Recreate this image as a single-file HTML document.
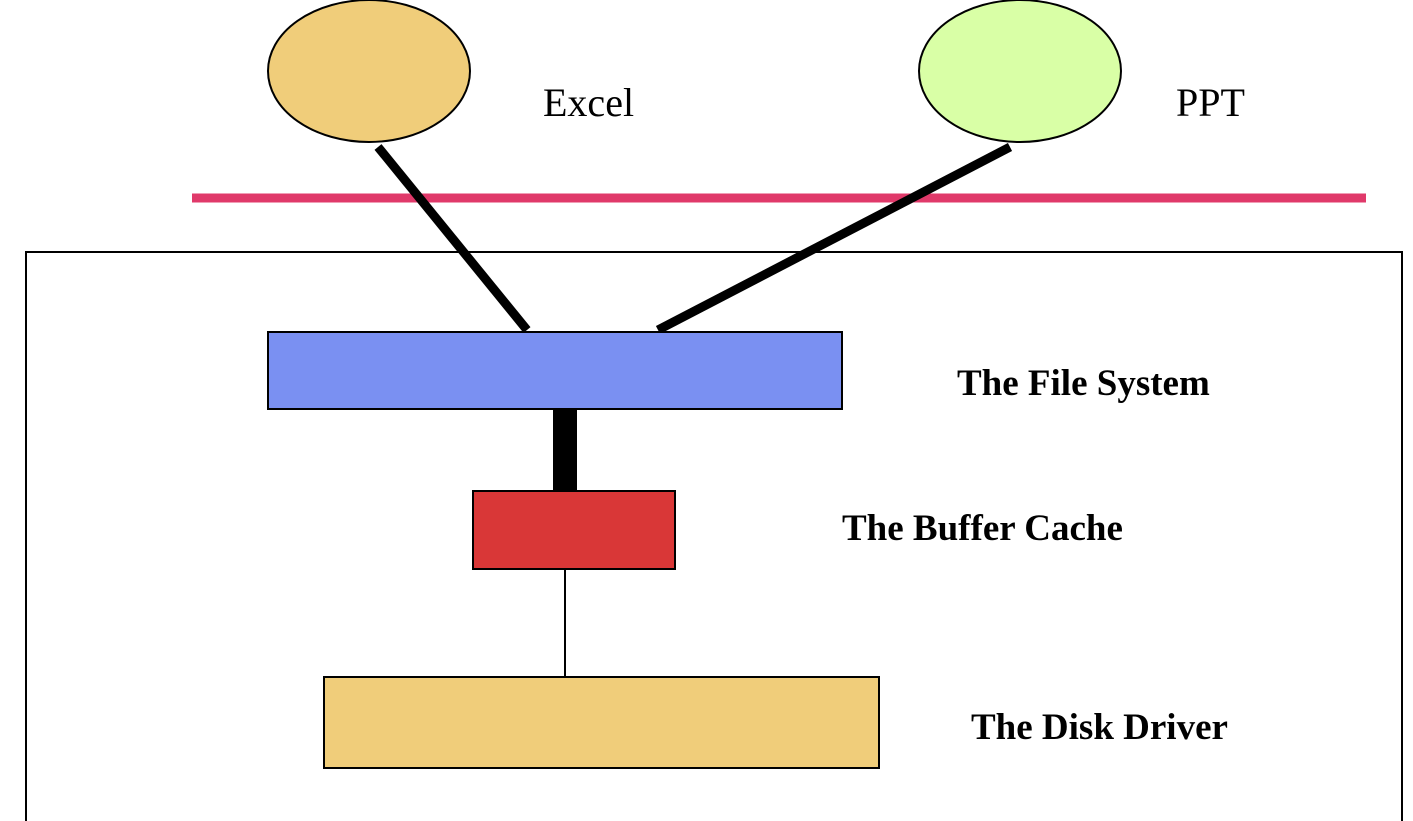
<!DOCTYPE html>
<html><head><style>html,body{margin:0;padding:0;background:#fff;}svg{display:block;}</style></head>
<body>
<svg width="1413" height="821" viewBox="0 0 1413 821" xmlns="http://www.w3.org/2000/svg" font-family="'Liberation Serif', serif">
<rect x="0" y="0" width="1413" height="821" fill="#fff"/>
<ellipse cx="369" cy="71" rx="101" ry="71" fill="#f0cd7a" stroke="#000" stroke-width="2"/>
<ellipse cx="1020" cy="71" rx="101" ry="71" fill="#d9ffa6" stroke="#000" stroke-width="2"/>
<text x="543" y="116" font-size="40">Excel</text>
<text x="1176" y="116" font-size="40">PPT</text>
<line x1="192" y1="198" x2="1366" y2="198" stroke="#e0396a" stroke-width="9"/>
<rect x="26" y="252" width="1376" height="570" fill="none" stroke="#000" stroke-width="2"/>
<line x1="378" y1="147" x2="527" y2="330" stroke="#000" stroke-width="9"/>
<line x1="1010" y1="147" x2="658" y2="330" stroke="#000" stroke-width="9"/>
<rect x="268" y="332" width="574" height="77" fill="#7a90f2" stroke="#000" stroke-width="2"/>
<rect x="553" y="409" width="24" height="82" fill="#000"/>
<rect x="473" y="491" width="202" height="78" fill="#d93737" stroke="#000" stroke-width="2"/>
<line x1="565" y1="569" x2="565" y2="677" stroke="#000" stroke-width="2"/>
<rect x="324" y="677" width="555" height="91" fill="#f0cd7a" stroke="#000" stroke-width="2"/>
<text x="957" y="395" font-size="37" font-weight="bold">The File System</text>
<text x="842" y="540" font-size="37" font-weight="bold">The Buffer Cache</text>
<text x="971" y="739" font-size="37" font-weight="bold">The Disk Driver</text>
</svg>
</body></html>
